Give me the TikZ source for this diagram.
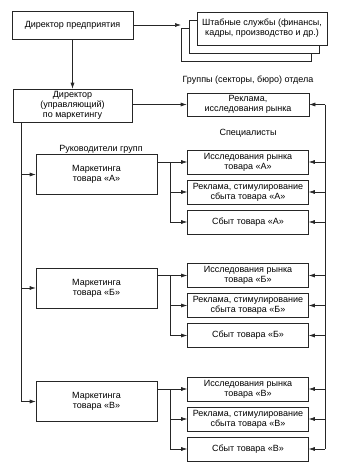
\documentclass[tikz,border=0pt]{standalone}
\usepackage{fontspec}
\setmainfont{Liberation Sans}
\usetikzlibrary{arrows.meta}
\begin{document}
\begin{tikzpicture}[x=1pt,y=-1pt,
  box/.style={draw=black!85,line width=0.6pt,fill=white,align=center,inner sep=0pt,
    font=\fontsize{9}{10}\selectfont},
  lbl/.style={font=\fontsize{9}{10}\selectfont,inner sep=0pt},
  conn/.style={draw=black!85,line width=0.6pt},
  arr/.style={conn,-{Latex[length=6pt,width=4pt]}}]
\useasboundingbox (0,0) rectangle (342,466);
% top
\node[box,minimum width=121pt,minimum height=28pt] (dir) at (72.5,25) {Директор предприятия};
\node[box,minimum width=130pt,minimum height=33pt] (sh3) at (246,44.5) {};
\node[box,minimum width=130pt,minimum height=33pt] (sh2) at (254,36.5) {};
\node[box,minimum width=130pt,minimum height=33pt] (sh1) at (262,28.5) {Штабные службы (финансы,\\кадры, производство и др.)};
\coordinate (shin) at (181,25);
\draw[arr] (dir.east) -- (shin);
\node[box,minimum width=119pt,minimum height=33pt] (dm) at (72.5,105.5) {Директор\\(управляющий)\\по маркетингу};
\draw[arr] (dir.south) -- (dm.north);
\node[lbl] (grp) at (248,80) {Группы (секторы, бюро) отдела};
\node[box,minimum width=122pt,minimum height=23pt] (rek) at (248,104.5) {Реклама,\\исследования рынка};
\draw[arr] (dm.east |- rek.west) -- (rek.west);
\node[lbl] (spec) at (248,133) {Специалисты};
\node[lbl] (ruk) at (101,149) {Руководители групп};
% groups
\foreach \n/\L/\y in {a/А/162,b/Б/275.5,c/В/389}{
  \node[box,minimum width=121pt,minimum height=40pt] (m\n) at (96.5,\y+12.5) {Маркетинга\\товара «\L»};
  \node[box,minimum width=121pt,minimum height=24pt] (s1\n) at (248,\y) {Исследования рынка\\товара «\L»};
  \node[box,minimum width=121pt,minimum height=24pt] (s2\n) at (248,\y+30) {Реклама, стимулирование\\сбыта товара «\L»};
  \node[box,minimum width=121pt,minimum height=24pt] (s3\n) at (248,\y+60) {Сбыт товара «\L»};
  \coordinate (bt\n) at (170,\y);
  \draw[arr] (m\n.east |- s1\n.west) -- (s1\n.west);
  \draw[arr] (bt\n) |- (s2\n.west);
  \draw[arr] (bt\n) |- (s3\n.west);
  \coordinate (rb1\n) at (325,\y);
  \coordinate (rb2\n) at (325,\y+30);
  \coordinate (rb3\n) at (325,\y+60);
  \draw[arr] (rb1\n) -- (s1\n.east);
  \draw[arr] (rb2\n) -- (s2\n.east);
  \draw[arr] (rb3\n) -- (s3\n.east);
  \coordinate (lb\n) at (21,\y+12.5);
  \draw[arr] (lb\n) -- (m\n.west);
}
% buses
\coordinate (ltop) at (21,122);
\draw[conn] (ltop) -- (lbc);
\coordinate (rtop) at (325,104.5);
\draw[arr] (rtop) -- (rek.east);
\draw[conn] (rtop) -- (rb3c);
\end{tikzpicture}
\end{document}
